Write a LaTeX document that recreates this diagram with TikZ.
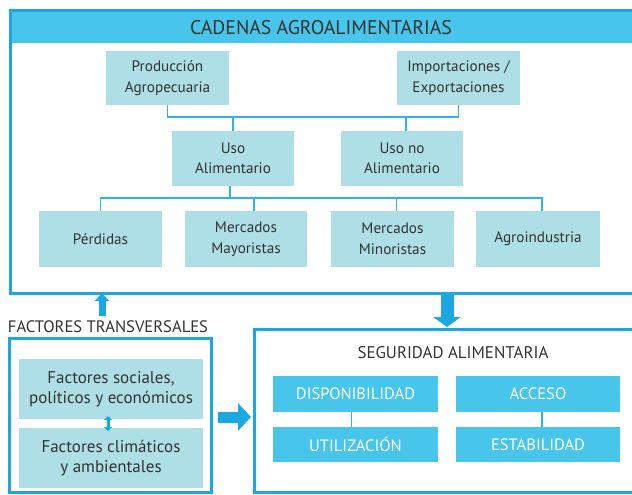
\documentclass[tikz,border=0pt]{standalone}
\usepackage{fontspec}
\setmainfont{PT Sans}
\usetikzlibrary{arrows.meta}
\definecolor{frameblue}{HTML}{1BA8E0}
\definecolor{headcyan}{HTML}{47C5EA}
\definecolor{lightbox}{HTML}{AEDFE6}
\definecolor{txt}{HTML}{333333}
\definecolor{conncol}{HTML}{2BB5E8}
\begin{document}
\begin{tikzpicture}[x=1pt,y=-1pt,
  lbox/.style={fill=lightbox, inner sep=0pt, outer sep=0pt, align=center, text=txt,
    font=\fontsize{15.2}{20.5}\selectfont, anchor=north west},
  fbox/.style={lbox, font=\fontsize{17}{20}\selectfont},
  sbox/.style={fill=headcyan, inner sep=0pt, outer sep=0pt, align=center, text=white,
    font=\fontsize{16.5}{18}\selectfont, anchor=north west},
  frame/.style={draw=frameblue, line width=3pt, inner sep=0pt, outer sep=0pt, anchor=north west},
  conn/.style={draw=conncol, line width=1.4pt},
  title/.style={text=txt, inner sep=0pt},
  bigup/.style={draw=frameblue, line width=7pt, -{Triangle[width=14pt,length=8pt]}},
  bigdown/.style={draw=frameblue, line width=13pt, -{Triangle[width=27pt,length=10pt]}},
  bigright/.style={draw=frameblue, line width=11pt, -{Triangle[width=27pt,length=13pt]}},
  small2/.style={draw=frameblue, line width=3pt, {Triangle[width=8pt,length=4pt]}-{Triangle[width=8pt,length=4pt]}}
]
\useasboundingbox (0,0) rectangle (632,495);
\begin{scope}
\clip (0,0) rectangle (632,495);
% outer frame with header band
\fill[headcyan] (10,11) rectangle (650,43);
\node[frame, minimum width=640, minimum height=282] (cad) at (10,11) {};
\node[title, font=\fontsize{19.8}{22}\selectfont] (cadtitle) at (321,28) {CADENAS AGROALIMENTARIAS};
% top boxes
\node[lbox, minimum width=123, minimum height=54] (prod) at (106,51) {Producción\\Agropecuaria};
\node[lbox, minimum width=123, minimum height=54] (imp) at (397,51) {Importaciones /\\Exportaciones};
\node[lbox, minimum width=122, minimum height=55] (usoa) at (172,131) {Uso\\Alimentario};
\node[lbox, minimum width=122, minimum height=55] (usono) at (341,131) {Uso no\\Alimentario};
\node[lbox, minimum width=123, minimum height=56] (perd) at (39,211) {Pérdidas};
\node[lbox, minimum width=122, minimum height=56] (mayo) at (185,211) {Mercados\\Mayoristas};
\node[lbox, minimum width=123, minimum height=56] (mino) at (331,211) {Mercados\\Minoristas};
\node[lbox, minimum width=124, minimum height=56] (agro) at (476,211) {Agroindustria};
% connectors top
\coordinate (bus1) at (0,117);
\coordinate (bus2) at (0,198);
\draw[conn] (prod.south) -- (prod.south |- bus1) -| (imp.south);
\draw[conn] (usoa.north |- bus1) -- (usoa.north);
\draw[conn] ([xshift=4pt]usono.north |- bus1) -- ([xshift=4pt]usono.north);
\draw[conn] ([xshift=-3pt]usoa.south) -- ([xshift=-3pt]usoa.south |- bus2);
\draw[conn] (perd.north) -- (perd.north |- bus2) -| ([xshift=4pt]agro.north);
\draw[conn] ([xshift=8pt]mayo.north |- bus2) -- ([xshift=8pt]mayo.north);
\draw[conn] ([xshift=4pt]mino.north |- bus2) -- ([xshift=4pt]mino.north);
% factores transversales
\node[title, font=\fontsize{16.6}{18}\selectfont] (ftlabel) at (108,327) {FACTORES TRANSVERSALES};
\node[frame, minimum width=202, minimum height=154] (fact) at (9,338) {};
\node[fbox, minimum width=184, minimum height=60] (soc) at (19,359) {Factores sociales,\\políticos y económicos};
\node[fbox, minimum width=184, minimum height=60] (clim) at (19,428) {Factores climáticos\\y ambientales};
\draw[small2] ([xshift=-3pt,yshift=3pt]soc.south) -- ([xshift=-3pt,yshift=-3pt]clim.north);
% seguridad alimentaria
\node[frame, minimum width=400, minimum height=163] (seg) at (254.5,329.5) {};
\node[title, font=\fontsize{16.9}{18}\selectfont] (segtitle) at (453,353) {SEGURIDAD ALIMENTARIA};
\node[sbox, minimum width=165, minimum height=36] (disp) at (273,376) {DISPONIBILIDAD};
\node[sbox, minimum width=165, minimum height=35] (util) at (273,427) {UTILIZACIÓN};
\node[sbox, minimum width=164, minimum height=36] (acc) at (456,376) {ACCESO};
\node[sbox, minimum width=164, minimum height=35] (est) at (456,427) {ESTABILIDAD};
\draw[conn] ([xshift=-4pt]disp.south) -- ([xshift=-4pt]util.north);
\draw[conn] ([xshift=4pt]acc.south) -- ([xshift=4pt]est.north);
% big arrows
\coordinate (upfoot) at (102,316);
\draw[bigup] (upfoot) -- (upfoot |- cad.south);
\coordinate (downx) at (447,0);
\coordinate (segtop) at (0,327);
\draw[bigdown] (downx |- cad.south) -- (downx |- segtop);
\coordinate (rightstart) at (218,417);
\coordinate (rightend) at (251,417);
\draw[bigright] (rightstart) -- (rightend);
\end{scope}
\end{tikzpicture}
\end{document}
